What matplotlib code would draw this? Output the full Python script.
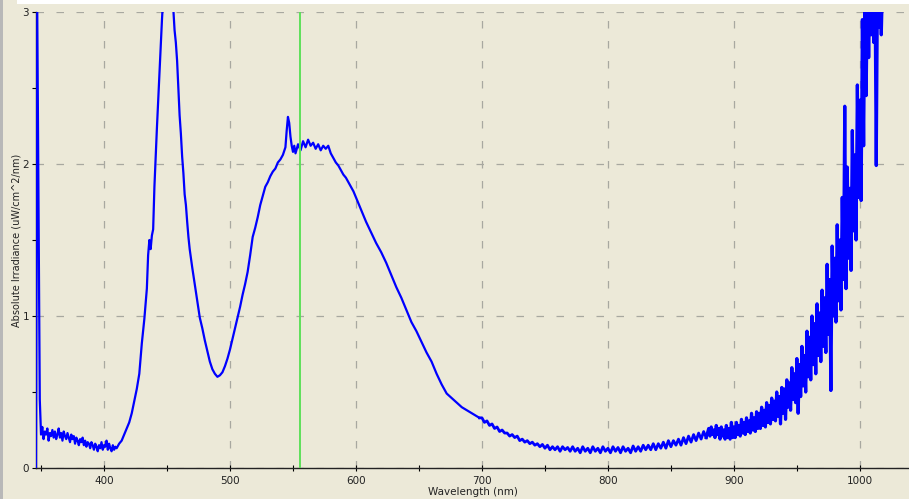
import numpy as np
import matplotlib
matplotlib.use("Agg")
import matplotlib.pyplot as plt
from matplotlib.patches import Rectangle
from matplotlib.ticker import MultipleLocator

# Spectrum, split into pieces
# 346-410 nm, 1 nm steps (detector edge spike + noisy baseline)
uv_wl = list(range(346, 411))
uv_irr = [0.00, 3.00, 1.75, 0.45, 0.22,
          0.27, 0.19, 0.24, 0.22, 0.26, 0.18, 0.23, 0.21, 0.25, 0.20,
          0.24, 0.19, 0.22, 0.26, 0.20, 0.23, 0.18, 0.24, 0.21, 0.19,
          0.23, 0.20, 0.17, 0.22, 0.19, 0.21, 0.16, 0.20, 0.18, 0.15,
          0.19, 0.17, 0.20, 0.15, 0.18, 0.14, 0.17, 0.16, 0.13, 0.17,
          0.15, 0.12, 0.16, 0.14, 0.11, 0.15, 0.13, 0.17, 0.12, 0.15,
          0.14, 0.18, 0.12, 0.16, 0.13, 0.11, 0.15, 0.12, 0.14, 0.13]

# 412-698 nm, blue peak + phosphor hump
peak_wl = [412, 414, 416, 418, 420, 422, 424, 426, 428, 430, 432, 434, 435, 436,
           437, 438, 439, 440, 441, 442, 443, 444, 445, 446, 447, 450, 453, 455,
           456, 457, 458, 459, 460, 461, 462, 463, 464, 465, 466, 467, 468, 470,
           472, 474, 476, 478, 480, 482, 484, 486, 488, 490, 492, 494, 496, 498,
           500, 502, 504, 506, 508, 510, 512, 514, 516, 518, 520, 522, 524, 526,
           528, 530, 532, 534, 536, 538, 540, 542, 544, 545, 546, 547, 548, 549,
           550, 551, 552, 554, 556, 558, 560, 562, 564, 566, 568, 570, 572, 574,
           576, 578, 580, 582, 584, 586, 588, 590, 592, 594, 596, 598, 600, 604,
           608, 612, 616, 620, 624, 628, 632, 636, 640, 644, 648, 652, 656, 660,
           664, 668, 672, 676, 680, 684, 688, 692, 696, 698]
peak_irr = [0.16, 0.18, 0.22, 0.26, 0.30, 0.36, 0.44, 0.52, 0.62, 0.82, 0.98, 1.18, 1.40, 1.50,
            1.44, 1.53, 1.57, 1.85, 2.05, 2.24, 2.42, 2.60, 2.78, 2.95, 3.10, 3.20, 3.15, 3.02,
            2.88, 2.80, 2.68, 2.50, 2.32, 2.20, 2.05, 1.94, 1.80, 1.73, 1.62, 1.52, 1.44, 1.32,
            1.21, 1.10, 0.99, 0.92, 0.84, 0.77, 0.70, 0.65, 0.62, 0.60, 0.61, 0.63, 0.67, 0.72,
            0.78, 0.85, 0.92, 0.99, 1.06, 1.14, 1.21, 1.29, 1.40, 1.52, 1.58, 1.65, 1.73, 1.79,
            1.85, 1.88, 1.92, 1.95, 1.97, 2.01, 2.03, 2.06, 2.11, 2.22, 2.31, 2.27, 2.18, 2.12,
            2.08, 2.12, 2.07, 2.13, 2.09, 2.15, 2.11, 2.16, 2.12, 2.14, 2.10, 2.13, 2.09, 2.12,
            2.10, 2.12, 2.07, 2.04, 2.01, 1.99, 1.96, 1.93, 1.91, 1.88, 1.85, 1.82, 1.78, 1.70,
            1.62, 1.55, 1.48, 1.42, 1.35, 1.27, 1.19, 1.12, 1.04, 0.96, 0.90, 0.83, 0.76, 0.70,
            0.62, 0.55, 0.49, 0.46, 0.43, 0.40, 0.38, 0.36, 0.34, 0.33]

# 700-878 nm, 2 nm steps, flat minimum
flat_wl = list(range(700, 879, 2))
flat_irr = [0.33, 0.30, 0.31, 0.28, 0.29, 0.26, 0.27, 0.24, 0.25, 0.23,
            0.23, 0.21, 0.22, 0.20, 0.21, 0.18, 0.19, 0.17, 0.18, 0.16,
            0.17, 0.15, 0.16, 0.14, 0.155, 0.13, 0.15, 0.12, 0.14, 0.12,
            0.14, 0.11, 0.14, 0.12, 0.135, 0.11, 0.14, 0.11, 0.13, 0.10,
            0.14, 0.11, 0.13, 0.10, 0.14, 0.11, 0.13, 0.10, 0.14, 0.11,
            0.13, 0.10, 0.14, 0.11, 0.135, 0.10, 0.14, 0.11, 0.13, 0.10,
            0.145, 0.11, 0.14, 0.11, 0.15, 0.12, 0.15, 0.12, 0.16, 0.12,
            0.16, 0.13, 0.17, 0.13, 0.18, 0.14, 0.18, 0.15, 0.19, 0.15,
            0.20, 0.16, 0.21, 0.17, 0.22, 0.18, 0.23, 0.19, 0.24, 0.20]

# 880-1018 nm, 1 nm steps, noisy NIR tail (clips above 3)
tail_wl = list(range(880, 1019))
tail_irr = [0.26, 0.21, 0.27, 0.22, 0.25, 0.20, 0.28, 0.22, 0.26, 0.19,
            0.27, 0.21, 0.25, 0.19, 0.28, 0.20, 0.26, 0.19, 0.30, 0.20,
            0.27, 0.20, 0.30, 0.22, 0.28, 0.21, 0.32, 0.23, 0.30, 0.22,
            0.33, 0.24, 0.31, 0.23, 0.36, 0.25, 0.33, 0.24, 0.37, 0.26,
            0.36, 0.26, 0.40, 0.28, 0.38, 0.27, 0.43, 0.30, 0.41, 0.29,
            0.46, 0.32, 0.44, 0.31, 0.50, 0.34, 0.47, 0.29, 0.53, 0.36,
            0.52, 0.32, 0.58, 0.40, 0.56, 0.38, 0.66, 0.45, 0.62, 0.43,
            0.72, 0.36, 0.68, 0.47, 0.80, 0.54, 0.74, 0.50, 0.90, 0.60,
            0.86, 0.58, 1.00, 0.68, 0.95, 0.62, 1.08, 0.74, 1.02, 0.70,
            1.17, 0.80, 1.12, 0.76, 1.34, 0.88, 1.24, 0.51, 1.46, 1.00,
            1.38, 0.96, 1.60, 1.10, 1.50, 1.04, 1.78, 1.24, 2.38, 1.18,
            1.98, 1.38, 1.84, 1.30, 2.22, 1.56, 2.06, 1.50, 2.52, 1.78,
            2.42, 1.76, 2.95, 2.12, 3.20, 2.45, 3.20, 2.70, 3.20, 2.85,
            3.20, 2.80, 3.20, 1.99, 3.20, 2.90, 3.20, 2.85, 3.20]

# green marker line
marker_wl = 555.5

bg = "#ECE9D8"


def draw_spectrum():
    fig = plt.figure(figsize=(9.09, 4.99), dpi=100, facecolor=bg)
    ax = fig.add_axes([36 / 909, 31 / 499, 873 / 909, 456 / 499])
    ax.set_facecolor(bg)

    # white strip at the top and grey border at the left, like the screenshot
    fig.add_artist(Rectangle((17 / 909, 495 / 499), 1, 4 / 499, transform=fig.transFigure,
                             facecolor="white", edgecolor="none", zorder=10))
    fig.add_artist(Rectangle((0, 0), 3 / 909, 1, transform=fig.transFigure,
                             facecolor="#b8b8b8", edgecolor="none", zorder=10))

    # smooth part thinner, noisy red/NIR part drawn a bit heavier so it reads as a band
    ax.plot(uv_wl + peak_wl, uv_irr + peak_irr, color="#0000FF", lw=1.6, zorder=3)
    ax.plot(peak_wl[-1:] + flat_wl, peak_irr[-1:] + flat_irr, color="#0000FF", lw=2.0, zorder=3)
    ax.plot(flat_wl[-1:] + tail_wl, flat_irr[-1:] + tail_irr, color="#0000FF", lw=2.3, zorder=3)
    ax.axvline(marker_wl, color="#5FE05A", lw=1.4, zorder=4)

    ax.set_xlim(346, 1039)
    ax.set_ylim(0, 3)

    ax.xaxis.set_major_locator(MultipleLocator(100))
    ax.xaxis.set_minor_locator(MultipleLocator(50))
    ax.yaxis.set_major_locator(MultipleLocator(1))
    ax.yaxis.set_minor_locator(MultipleLocator(0.5))

    ax.grid(True, which="major", color="#A8A8A0", ls=(0, (6, 10)), lw=0.9)
    ax.tick_params(axis="x", which="both", direction="inout", length=5, width=0.8,
                   labelsize=7.5, labelcolor="#222222", pad=3)
    ax.tick_params(axis="y", which="both", direction="out", length=3, width=0.8,
                   labelsize=7.5, labelcolor="#222222", pad=2)

    for side in ("top", "right"):
        ax.spines[side].set_visible(False)
    for side in ("left", "bottom"):
        ax.spines[side].set_color("#222222")
        ax.spines[side].set_linewidth(1.0)

    ax.set_xlabel("Wavelength (nm)", fontsize=7.5, color="#222222", labelpad=1)
    ax.set_ylabel("Absolute Irradiance (uW/cm^2/nm)", fontsize=7, color="#222222", labelpad=1)

    fig.savefig("out.png", dpi=100, facecolor=bg)


def main():
    draw_spectrum()


if __name__ == "__main__":
    main()
